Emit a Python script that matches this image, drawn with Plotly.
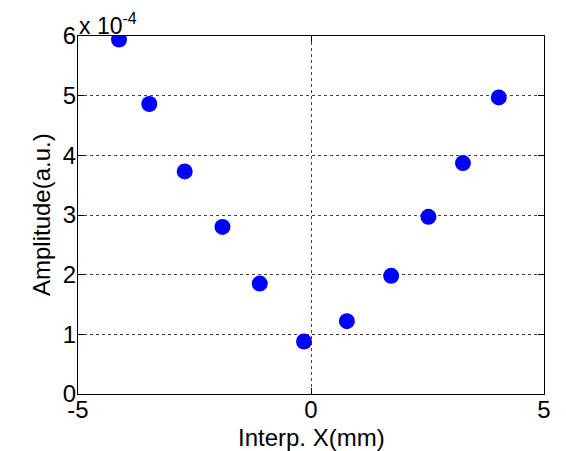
import plotly.graph_objects as go

# Data
x_mm = [-4.12, -3.47, -2.71, -1.90, -1.10, -0.15, 0.77, 1.72, 2.52, 3.26, 4.03]
amplitude = [5.94e-4, 4.86e-4, 3.73e-4, 2.80e-4, 1.85e-4, 0.88e-4,
             1.22e-4, 1.98e-4, 2.97e-4, 3.87e-4, 4.97e-4]

x_ticks = [-5, 0, 5]
y_ticks = [0, 1e-4, 2e-4, 3e-4, 4e-4, 5e-4, 6e-4]
y_ticktext = ["0", "1", "2", "3", "4", "5", "6"]

FONT = "Liberation Sans, Arial, Helvetica, sans-serif"

fig = go.Figure()
fig.add_trace(go.Scatter(
    x=x_mm, y=amplitude, mode="markers",
    marker=dict(size=16, color="#0000ff", line=dict(width=0)),
    showlegend=False,
))

axis_common = dict(
    showline=True, linecolor="black", linewidth=1.2, mirror="ticks",
    ticks="inside", ticklen=6, tickcolor="black", tickwidth=1,
    showgrid=True, gridcolor="#444444", griddash="dot", gridwidth=1,
    zeroline=False, automargin=False,
    tickfont=dict(family=FONT, size=24, color="black"),
)

fig.update_xaxes(range=[-5, 5], tickvals=x_ticks,
                 ticktext=[str(v) for v in x_ticks],
                 ticklabelstandoff=-6, **axis_common)
fig.update_yaxes(range=[0, 6e-4], tickvals=y_ticks,
                 ticktext=y_ticktext, ticklabelstandoff=-4, **axis_common)

title_font = dict(family=FONT, size=24, color="black")
fig.add_annotation(
    text="Interp. X(mm)", xref="paper", yref="paper", x=0.5, y=0,
    xanchor="center", yanchor="middle", yshift=-43, showarrow=False,
    font=title_font,
)
fig.add_annotation(
    text="Amplitude(a.u.)", xref="paper", yref="paper", x=0, y=0.5,
    xanchor="center", yanchor="middle", xshift=-37, textangle=-90,
    showarrow=False, font=title_font,
)
fig.add_annotation(
    text="x 10<sup>-4</sup>", xref="paper", yref="paper", x=0.0, y=1.0,
    xanchor="left", yanchor="bottom", showarrow=False, xshift=-1, yshift=-5,
    font=dict(family=FONT, size=23, color="black"),
)

# The page body adds an 8px margin at left/top, so the figure is 8px smaller
fig.update_layout(
    width=558, height=443,
    margin=dict(l=70, r=22, t=28, b=57),
    paper_bgcolor="white", plot_bgcolor="white",
    font=dict(family=FONT, color="black"),
)

fig.write_html("out.html")
